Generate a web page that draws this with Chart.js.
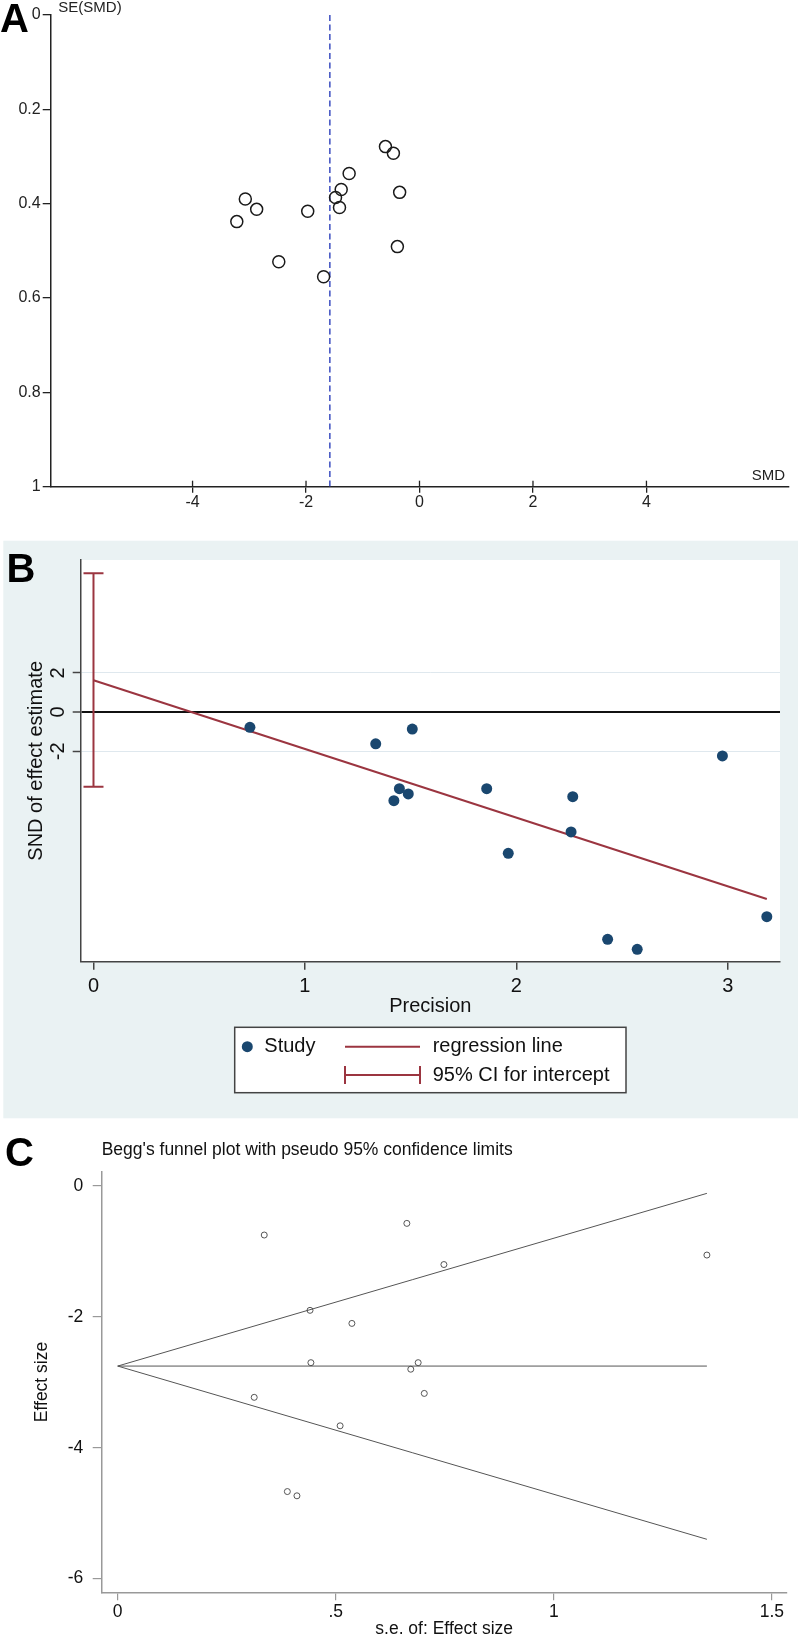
<!DOCTYPE html>
<html><head><meta charset="utf-8">
<script src="https://cdn.jsdelivr.net/npm/chart.js@4.4.1/dist/chart.umd.min.js"></script>
<style>
html,body{margin:0;padding:0;background:#fff;overflow:hidden;width:800px;height:1635px;}
canvas{position:absolute;left:0;display:block;}
.lbl{position:absolute;font-family:'Liberation Sans',Arial,sans-serif;font-weight:bold;font-size:40px;line-height:40px;color:#000;margin:0;}
</style></head><body>
<canvas id="cA" width="800" height="520" style="top:0px"></canvas>
<canvas id="cB" width="800" height="595" style="top:530px"></canvas>
<canvas id="cC" width="800" height="530" style="top:1125px"></canvas>
<div class="lbl" style="left:0px;top:-2.2px">A</div>
<div class="lbl" style="left:6.5px;top:547.8px">B</div>
<div class="lbl" style="left:5px;top:1131.6px">C</div>
<script>
// ---------- Panel A: funnel plot (SMD vs SE) ----------
const A_SMD = [-0.60,-0.46,-1.24,-1.38,-1.48,-1.41,-0.35,-0.39,-1.97,-1.69,-2.48,-2.87,-3.07,-3.22];
const A_SE  = [0.279,0.293,0.336,0.370,0.387,0.408,0.376,0.491,0.416,0.555,0.523,0.412,0.390,0.438];
const A_POOLED = -1.58;
const A_XTICKS = [-4,-2,0,2,4];
const A_YTICKS = [0,0.2,0.4,0.6,0.8,1];
const A_YTICK_LABELS = ['0','0.2','0.4','0.6','0.8','1'];

// ---------- Panel B: Egger's regression ----------
const B_PRECISION = [0.740,1.335,1.421,1.447,1.489,1.508,1.860,1.962,2.267,2.259,2.975,2.432,2.572,3.185];
const B_SND       = [-0.78,-1.62,-4.52,-3.91,-4.18,-0.87,-3.91,-7.21,-4.32,-6.12,-2.24,-11.60,-12.11,-10.44];
const B_REG_X = [0, 3.185];
const B_REG_Y = [1.62, -9.54];
const B_CI = [-3.81, 7.09];
const B_XTICKS = [0,1,2,3];
const B_YTICKS = [-2,0,2];

// ---------- Panel C: Begg's funnel plot ----------
const C_SE = [0.336,0.663,0.748,1.351,0.441,0.537,0.443,0.672,0.689,0.703,0.313,0.510,0.389,0.411];
const C_ES = [-0.749,-0.571,-1.20,-1.055,-1.90,-2.10,-2.70,-2.80,-2.70,-3.17,-3.23,-3.665,-4.67,-4.735];
const C_LIMIT_X = [0, 1.351];
const C_CENTER = [-2.752, -2.752];
const C_UPPER = [-2.752, -0.112];
const C_LOWER = [-2.752, -5.40];
const C_XTICKS = [0,0.5,1,1.5];
const C_XTICK_LABELS = ['0','.5','1','1.5'];
const C_YTICKS = [-6,-4,-2,0];

const FF = "'Liberation Sans', Arial, Helvetica, sans-serif";
const NAVY = '#1a476f';
const RED = '#9b3540';
const pts = (xs, ys) => xs.map((x,i)=>({x, y: ys[i]}));
const setTicks = arr => s => { s.ticks = arr.map(v => ({value: v})); };

Chart.defaults.font.family = FF;

// ---- A ----
const aDecor = {
  id: 'aDecor',
  afterDraw(chart) {
    const {ctx, chartArea: ca, scales: {x}} = chart;
    ctx.save();
    ctx.strokeStyle = '#222'; ctx.lineWidth = 1.3;
    x.ticks.forEach(t => {
      const px = x.getPixelForValue(t.value);
      ctx.beginPath(); ctx.moveTo(px, ca.bottom); ctx.lineTo(px, ca.bottom - 6); ctx.stroke();
    });
    ctx.fillStyle = '#222'; ctx.font = '15px ' + FF; ctx.textBaseline = 'middle';
    ctx.textAlign = 'left'; ctx.fillText('SE(SMD)', ca.left + 7.6, ca.top - 7.5);
    ctx.textAlign = 'right'; ctx.fillText('SMD', ca.right - 3.3, ca.bottom - 10.7);
    ctx.restore();
  }
};
new Chart(document.getElementById('cA'), {
  type: 'scatter',
  data: { datasets: [
    { type: 'line', data: [{x: A_POOLED, y: 0}, {x: A_POOLED, y: 1}], borderColor: '#3a4cc0', borderWidth: 1.5,
      borderDash: [6, 3.5], pointRadius: 0, fill: false, order: 2 },
    { data: pts(A_SMD, A_SE), pointStyle: 'circle', pointRadius: 6, pointHoverRadius: 6,
      borderColor: '#1a1a1a', borderWidth: 1.5, backgroundColor: 'rgba(0,0,0,0)', order: 1 }
  ]},
  options: {
    responsive: false, animation: false, devicePixelRatio: 1, events: [],
    layout: { padding: { top: 15, right: 11.7, bottom: 0, left: 0 } },
    plugins: { legend: { display: false }, tooltip: { enabled: false } },
    scales: {
      x: { type: 'linear', min: -6.5, max: 6.5, afterBuildTicks: setTicks(A_XTICKS),
           afterFit: s => { s.height = 33.3; },
           grid: { drawOnChartArea: false, tickLength: 6, color: '#222', lineWidth: 1.3 },
           border: { color: '#222', width: 1.5 },
           ticks: { font: { size: 16 }, color: '#222', padding: 0, maxRotation: 0, callback: v => String(v) } },
      y: { type: 'linear', reverse: true, min: 0, max: 1, afterBuildTicks: setTicks(A_YTICKS),
           afterFit: s => { s.width = 50.7; },
           grid: { drawOnChartArea: false, tickLength: 8, color: '#222', lineWidth: 1.3 },
           border: { color: '#222', width: 1.5 },
           ticks: { font: { size: 16 }, color: '#222', padding: 2,
                    callback: (v, i) => A_YTICK_LABELS[i] } }
    }
  },
  plugins: [aDecor]
});

// ---- B ----
const bDecor = {
  id: 'bDecor',
  beforeDraw(chart) {
    const {ctx, chartArea: ca} = chart;
    ctx.save();
    ctx.fillStyle = '#eaf2f3'; ctx.fillRect(3.3, 10.7, 794.7, 577.6);
    ctx.fillStyle = '#ffffff'; ctx.fillRect(ca.left, ca.top, ca.right - ca.left, ca.bottom - ca.top);
    ctx.restore();
  },
  afterDraw(chart) {
    const {ctx, chartArea: ca} = chart;
    const cx = (ca.left + ca.right) / 2, bw = 391.3, bh = 65.4, bx = cx - bw / 2, by = ca.bottom + 65.6;
    const r1 = by + 19.4, r2 = by + 47.7;
    ctx.save();
    ctx.fillStyle = '#fff'; ctx.fillRect(bx, by, bw, bh);
    ctx.strokeStyle = '#444'; ctx.lineWidth = 1.5; ctx.strokeRect(bx, by, bw, bh);
    ctx.fillStyle = NAVY; ctx.beginPath(); ctx.arc(bx + 12.6, r1, 5.5, 0, 2 * Math.PI); ctx.fill();
    ctx.strokeStyle = RED; ctx.lineWidth = 2;
    ctx.beginPath(); ctx.moveTo(bx + 110.3, r1); ctx.lineTo(bx + 185.3, r1); ctx.stroke();
    ctx.beginPath(); ctx.moveTo(bx + 110.3, r2); ctx.lineTo(bx + 185.3, r2);
    ctx.moveTo(bx + 110.3, r2 - 9); ctx.lineTo(bx + 110.3, r2 + 9);
    ctx.moveTo(bx + 185.3, r2 - 9); ctx.lineTo(bx + 185.3, r2 + 9); ctx.stroke();
    ctx.fillStyle = '#111'; ctx.font = '20px ' + FF; ctx.textAlign = 'left'; ctx.textBaseline = 'middle';
    ctx.fillText('Study', bx + 29.6, r1);
    ctx.fillText('regression line', bx + 198, r1);
    ctx.fillText('95% CI for intercept', bx + 198, r2);
    ctx.restore();
  }
};
new Chart(document.getElementById('cB'), {
  type: 'scatter',
  data: { datasets: [
    { type: 'line', data: [{x: 0, y: B_CI[0]}, {x: 0, y: B_CI[1]}], borderColor: RED, borderWidth: 2,
      pointStyle: 'line', pointRadius: 10, pointHoverRadius: 10, pointBorderColor: RED, pointBorderWidth: 2, order: 3 },
    { type: 'line', data: pts(B_REG_X, B_REG_Y), borderColor: RED, borderWidth: 2, pointRadius: 0, order: 2 },
    { data: pts(B_PRECISION, B_SND), backgroundColor: NAVY, pointRadius: 5.5, pointHoverRadius: 5.5, borderWidth: 0, order: 1 }
  ]},
  options: {
    responsive: false, animation: false, devicePixelRatio: 1, events: [],
    layout: { padding: { top: 30, right: 20, bottom: 103.3, left: 0 } },
    plugins: { legend: { display: false }, tooltip: { enabled: false } },
    scales: {
      x: { type: 'linear', min: -0.0605, max: 3.2474, afterBuildTicks: setTicks(B_XTICKS),
           afterFit: s => { s.height = 60; },
           grid: { drawOnChartArea: false, tickLength: 8, color: '#444', lineWidth: 1.5 },
           border: { color: '#444', width: 1.5 },
           ticks: { font: { size: 20 }, color: '#111', padding: 4.3, maxRotation: 0, callback: v => String(v) },
           title: { display: true, text: 'Precision', font: { size: 20 }, color: '#111', padding: { top: 0, bottom: 3.7 } } },
      y: { type: 'linear', min: -12.74, max: 7.76, afterBuildTicks: setTicks(B_YTICKS),
           afterFit: s => { s.width = 80.7; },
           grid: { drawOnChartArea: true, tickLength: 8,
                   color: c => (c.tick && c.tick.value === 0) ? '#111' : '#dfe8ee',
                   lineWidth: c => (c.tick && c.tick.value === 0) ? 2 : 1,
                   tickColor: '#444', tickWidth: 1.5 },
           border: { color: '#444', width: 1.5 },
           ticks: { font: { size: 20 }, color: '#111', minRotation: 90, maxRotation: 90, crossAlign: 'center',
                    padding: 5.5, callback: v => String(v) },
           title: { display: true, text: 'SND of effect estimate', font: { size: 20 }, color: '#111',
                    padding: { top: 24.7, bottom: 0 } } }
    }
  },
  plugins: [bDecor]
});

// ---- C ----
new Chart(document.getElementById('cC'), {
  type: 'scatter',
  data: { datasets: [
    { type: 'line', data: pts(C_LIMIT_X, C_UPPER), borderColor: '#555', borderWidth: 1, pointRadius: 0, order: 4 },
    { type: 'line', data: pts(C_LIMIT_X, C_CENTER), borderColor: '#555', borderWidth: 1, pointRadius: 0, order: 3 },
    { type: 'line', data: pts(C_LIMIT_X, C_LOWER), borderColor: '#555', borderWidth: 1, pointRadius: 0, order: 2 },
    { data: pts(C_SE, C_ES), pointStyle: 'circle', pointRadius: 3, pointHoverRadius: 3, borderColor: '#444',
      borderWidth: 0.9, backgroundColor: 'rgba(0,0,0,0)', order: 1 }
  ]},
  options: {
    responsive: false, animation: false, devicePixelRatio: 1, events: [],
    layout: { padding: { top: 0, right: 13.3, bottom: 0, left: 0 } },
    plugins: {
      legend: { display: false }, tooltip: { enabled: false },
      title: { display: true, text: "Begg's funnel plot with pseudo 95% confidence limits", align: 'start', fullSize: false,
               font: { size: 17.5, weight: 'normal' }, color: '#111', padding: { top: 14.5, bottom: 11.2 } }
    },
    scales: {
      x: { type: 'linear', min: -0.0367, max: 1.534, afterBuildTicks: setTicks(C_XTICKS),
           afterFit: s => { s.height = 62.7; },
           grid: { drawOnChartArea: false, tickLength: 8, color: '#999', lineWidth: 1.2 },
           border: { color: '#999', width: 1.5 },
           ticks: { font: { size: 17.5 }, color: '#111', padding: 0.9, maxRotation: 0, callback: (v, i) => C_XTICK_LABELS[i] },
           title: { display: true, text: 's.e. of: Effect size', font: { size: 17.5 }, color: '#111', padding: { top: 0, bottom: 15.5 } } },
      y: { type: 'linear', min: -6.21, max: 0.219, afterBuildTicks: setTicks(C_YTICKS),
           afterFit: s => { s.width = 101.7; },
           grid: { drawOnChartArea: false, tickLength: 9, color: '#999', lineWidth: 1.2 },
           border: { color: '#999', width: 1.5 },
           ticks: { font: { size: 17.5 }, color: '#111', padding: 9.4, callback: v => String(v) },
           title: { display: true, text: 'Effect size', font: { size: 17.5 }, color: '#111', padding: { top: 31.2, bottom: 0 } } }
    }
  }
});
</script>
</body></html>
